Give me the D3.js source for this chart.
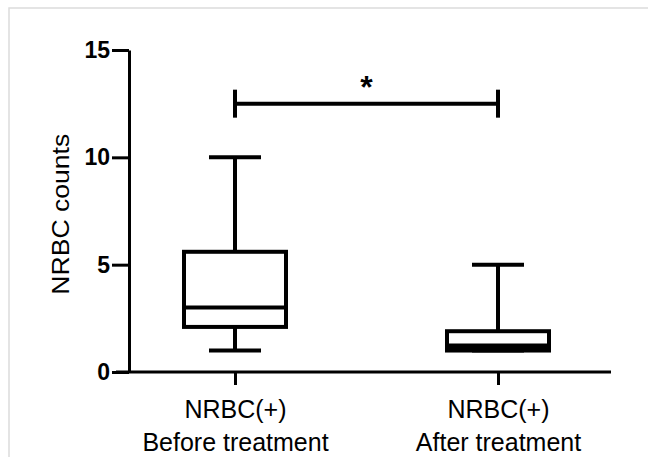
<!DOCTYPE html>
<html>
<head>
<meta charset="utf-8">
<script src="https://cdn.jsdelivr.net/npm/d3@7"></script>
<style>
  body { margin: 0; background: #fff; }
  svg { display: block; font-family: "Liberation Sans", Arial, sans-serif; }
</style>
</head>
<body>
<svg id="chart" width="648" height="457"></svg>
<script>
// data
var groups = ["NRBC(+)|Before treatment", "NRBC(+)|After treatment"];
var whiskerLow = [1, 1];
var q1Values = [2.1, 1];
var medianValues = [3, 1];
var q3Values = [5.6, 1.9];
var whiskerHigh = [10, 5];
var yTicks = [0, 5, 10, 15];
var sigLevel = 12.5;
var sigLabel = "*";

var svg = d3.select("#chart");

// faint frame on top/left edge of the picture
svg.append("rect")
    .attr("x", 9).attr("y", 8)
    .attr("width", 700).attr("height", 500)
    .attr("fill", "none")
    .attr("stroke", "#dcdcdc")
    .attr("stroke-width", 1.5);

var margin = {top: 50, right: 38, bottom: 85, left: 129},
    width = +svg.attr("width") - margin.left - margin.right,
    height = +svg.attr("height") - margin.top - margin.bottom;

var g = svg.append("g")
    .attr("transform", "translate(" + margin.left + "," + margin.top + ")");

var y = d3.scaleLinear().domain([0, 15]).range([height, 0]);
var x = d3.scalePoint().domain(groups).range([106, 369]);

// y axis
var yAxis = g.append("g")
    .call(d3.axisLeft(y).tickValues(yTicks).tickSize(17).tickSizeOuter(0).tickPadding(2));
yAxis.select(".domain").attr("stroke", "#000").attr("stroke-width", 3);
yAxis.selectAll(".tick line").attr("stroke-width", 3);
yAxis.selectAll(".tick text")
    .attr("fill", "#000")
    .style("font-size", "23px")
    .style("font-weight", "bold");

// x axis
var xAxis = g.append("g")
    .attr("transform", "translate(0," + height + ")")
    .call(d3.axisBottom(x).tickSize(13).tickSizeOuter(0).tickFormat(""));
xAxis.select(".domain").attr("d", "M-13,0H" + (width + 1)).attr("stroke", "#000").attr("stroke-width", 3);
xAxis.selectAll(".tick line").attr("stroke-width", 3);
xAxis.selectAll(".tick").each(function (d) {
    var parts = d.split("|");
    var t = d3.select(this).append("text")
        .attr("fill", "#000")
        .attr("text-anchor", "middle")
        .style("font-size", "25px");
    t.append("tspan").attr("x", 0).attr("y", 46).text(parts[0]);
    t.append("tspan").attr("x", 0).attr("y", 79).text(parts[1]);
});

// y label
g.append("text")
    .attr("transform", "rotate(-90)")
    .attr("x", -y(7.35))
    .attr("y", -60)
    .attr("text-anchor", "middle")
    .attr("fill", "#000")
    .attr("textLength", 161)
    .attr("lengthAdjust", "spacingAndGlyphs")
    .style("font-size", "23px")
    .text("NRBC counts");

// boxes
var boxW = 102, capW = 52, sw = 4;
var boxes = g.selectAll(".box")
    .data(groups)
    .enter().append("g")
    .attr("class", "box")
    .attr("transform", function (d) { return "translate(" + x(d) + ",0)"; });

boxes.append("line")
    .attr("x1", 0).attr("x2", 0)
    .attr("y1", function (d, i) { return y(q3Values[i]); })
    .attr("y2", function (d, i) { return y(whiskerHigh[i]); })
    .attr("stroke", "#000").attr("stroke-width", sw);
boxes.append("line")
    .attr("x1", 0).attr("x2", 0)
    .attr("y1", function (d, i) { return y(q1Values[i]); })
    .attr("y2", function (d, i) { return y(whiskerLow[i]); })
    .attr("stroke", "#000").attr("stroke-width", sw);
boxes.append("line")
    .attr("x1", -capW / 2).attr("x2", capW / 2)
    .attr("y1", function (d, i) { return y(whiskerHigh[i]); })
    .attr("y2", function (d, i) { return y(whiskerHigh[i]); })
    .attr("stroke", "#000").attr("stroke-width", sw);
boxes.append("line")
    .attr("x1", -capW / 2).attr("x2", capW / 2)
    .attr("y1", function (d, i) { return y(whiskerLow[i]); })
    .attr("y2", function (d, i) { return y(whiskerLow[i]); })
    .attr("stroke", "#000").attr("stroke-width", sw);
boxes.append("rect")
    .attr("x", -boxW / 2)
    .attr("width", boxW)
    .attr("y", function (d, i) { return y(q3Values[i]); })
    .attr("height", function (d, i) { return y(q1Values[i]) - y(q3Values[i]); })
    .attr("fill", "#fff")
    .attr("stroke", "#000").attr("stroke-width", sw);
boxes.append("line")
    .attr("x1", -boxW / 2).attr("x2", boxW / 2)
    .attr("y1", function (d, i) { return y(medianValues[i]) - (medianValues[i] === q1Values[i] ? 3 : 0); })
    .attr("y2", function (d, i) { return y(medianValues[i]) - (medianValues[i] === q1Values[i] ? 3 : 0); })
    .attr("stroke", "#000").attr("stroke-width", function (d, i) { return medianValues[i] === q1Values[i] ? 8 : sw; });

// significance bracket
var sx1 = x(groups[0]), sx2 = x(groups[1]), sy = y(sigLevel);
g.append("line")
    .attr("x1", sx1).attr("x2", sx2).attr("y1", sy).attr("y2", sy)
    .attr("stroke", "#000").attr("stroke-width", 4);
[sx1, sx2].forEach(function (px) {
    g.append("line")
        .attr("x1", px).attr("x2", px).attr("y1", sy - 14).attr("y2", sy + 14)
        .attr("stroke", "#000").attr("stroke-width", 4);
});
g.append("text")
    .attr("x", (sx1 + sx2) / 2)
    .attr("y", sy - 6)
    .attr("text-anchor", "middle")
    .attr("fill", "#000")
    .style("font-size", "32px")
    .style("font-weight", "bold")
    .text(sigLabel);
</script>
</body>
</html>
